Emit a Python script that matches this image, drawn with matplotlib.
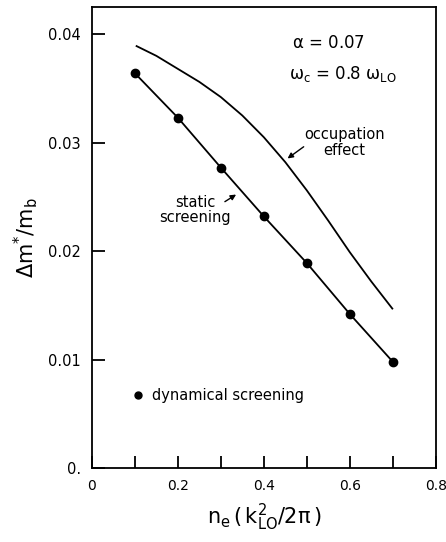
import matplotlib
matplotlib.use("Agg")
import matplotlib.pyplot as plt

# dynamical screening points (static screening line goes through them)
ne = [0.1, 0.2, 0.3, 0.4, 0.5, 0.6, 0.7]
dyn = [0.0364, 0.0323, 0.0277, 0.0232, 0.0189, 0.0142, 0.0098]

# occupation effect curve
occ_x = [0.104, 0.15, 0.2, 0.25, 0.3, 0.35, 0.4, 0.45, 0.5, 0.55, 0.6, 0.65, 0.699]
occ_y = [0.0389, 0.0380, 0.0368, 0.0356, 0.0342, 0.0325, 0.0305, 0.0282, 0.0256,
         0.0228, 0.0199, 0.0172, 0.0147]

xticks = [0, 0.1, 0.2, 0.3, 0.4, 0.5, 0.6, 0.7, 0.8]
xlabels = ["0", "", "0.2", "", "0.4", "", "0.6", "", "0.8"]
yticks = [0, 0.01, 0.02, 0.03, 0.04]
ylabels = ["0.", "0.01", "0.02", "0.03", "0.04"]

fig = plt.figure(figsize=(4.46, 5.42), dpi=100)
ax = fig.add_axes([0.206, 0.1365, 0.771, 0.8505])

ax.plot(ne, dyn, color="black", lw=1.3)
ax.plot(ne, dyn, "o", color="black", ms=6)
ax.plot(occ_x, occ_y, color="black", lw=1.3)

ax.set_xlim(0, 0.8)
ax.set_ylim(0, 0.0425)
ax.set_xticks(xticks)
ax.set_xticklabels(xlabels)
ax.set_yticks(yticks)
ax.set_yticklabels(ylabels)
ax.tick_params(direction="in", length=9, width=1.3, labelsize=10.5, pad=8)
ax.tick_params(axis="x", labelsize=10)
for s in ax.spines.values():
    s.set_linewidth(1.3)

ax.set_xlabel(r"$\mathregular{n_e\,(\,k_{LO}^2/2\pi\,)}$", fontsize=15, labelpad=6)
ax.set_ylabel(r"$\mathregular{\Delta m^{*}/m_b}$", fontsize=15, labelpad=6)

# annotations
ax.text(0.466, 0.0392, r"$\mathregular{\alpha}$ = 0.07", fontsize=12, va="center")
ax.text(0.459, 0.0363, r"$\mathregular{\omega_c}$ = 0.8 $\mathregular{\omega_{LO}}$",
        fontsize=12, va="center")
ax.text(0.587, 0.0300, "occupation\neffect", fontsize=10.5, ha="center", va="center",
        linespacing=1.1)
ax.annotate("", xy=(0.450, 0.02839), xytext=(0.498, 0.02977),
            arrowprops=dict(arrowstyle="-|>", color="black", lw=1, mutation_scale=8))
ax.text(0.241, 0.0238, "static\nscreening", fontsize=10.5, ha="center", va="center",
        linespacing=1.0)
ax.annotate("", xy=(0.341, 0.02535), xytext=(0.304, 0.02442),
            arrowprops=dict(arrowstyle="-|>", color="black", lw=1, mutation_scale=8))
ax.plot([0.107], [0.00673], "o", color="black", ms=5)
ax.text(0.139, 0.00673, "dynamical screening", fontsize=10.5, va="center")

fig.savefig("out.png", dpi=100)
